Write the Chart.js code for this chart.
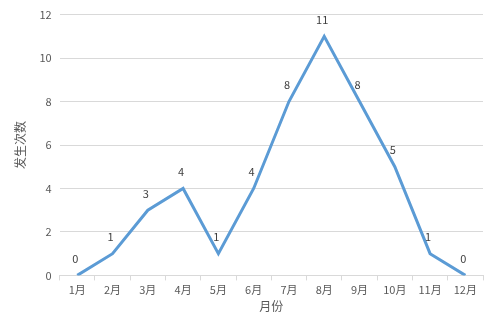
<!DOCTYPE html>
<html>
<head>
<meta charset="utf-8">
<script src="https://cdn.jsdelivr.net/npm/chart.js@4/dist/chart.umd.min.js"></script>
<style>
html, body { margin: 0; padding: 0; background: #fff; }
#wrap { width: 499px; height: 335px; }
</style>
</head>
<body>
<div id="wrap"><canvas id="chart"></canvas></div>
<script>
var months = ['1月', '2月', '3月', '4月', '5月', '6月', '7月', '8月', '9月', '10月', '11月', '12月'];
var counts = [0, 1, 3, 4, 1, 4, 8, 11, 8, 5, 1, 0];
var yTicks = [0, 2, 4, 6, 8, 10, 12];

var fontFamily = '"Noto Sans CJK SC", "Noto Sans", sans-serif';

// draws the value above each point
var pointLabels = {
	id: 'pointLabels',
	afterDatasetsDraw: function (chart) {
		var ctx = chart.ctx;
		var meta = chart.getDatasetMeta(0);
		ctx.save();
		ctx.font = '11px ' + fontFamily;
		ctx.fillStyle = '#404040';
		ctx.textAlign = 'center';
		ctx.textBaseline = 'bottom';
		meta.data.forEach(function (pt, i) {
			ctx.fillText(String(counts[i]), pt.x - 2, pt.y - 11);
		});
		ctx.restore();
	}
};

new Chart(document.getElementById('chart'), {
	type: 'line',
	data: {
		labels: months,
		datasets: [{
			data: counts,
			borderColor: '#5B9BD5',
			borderWidth: 3,
			pointRadius: 0,
			tension: 0,
			fill: false
		}]
	},
	options: {
		responsive: true,
		maintainAspectRatio: false,
		animation: false,
		layout: { padding: { top: 8, right: 16, left: 9, bottom: 17 } },
		plugins: {
			legend: { display: false },
			tooltip: { enabled: false }
		},
		scales: {
			x: {
				offset: true,
				grid: { offset: true, drawOnChartArea: false, color: '#d9d9d9', tickLength: 5 },
				border: { color: '#d9d9d9' },
				ticks: { color: '#595959', font: { size: 11, family: fontFamily }, padding: 3, maxRotation: 0 },
				title: { display: true, text: '月份', color: '#595959', font: { size: 12, family: fontFamily }, padding: { top: 0 } }
			},
			y: {
				min: 0,
				max: 12,
				afterBuildTicks: function (axis) {
					axis.ticks = yTicks.map(function (v) { return { value: v }; });
				},
				grid: { color: '#d9d9d9', drawTicks: false },
				border: { display: false },
				ticks: { color: '#595959', font: { size: 11, family: fontFamily }, padding: 8 },
				title: { display: true, text: '发生次数', color: '#595959', font: { size: 12, family: fontFamily }, padding: { bottom: 4 } }
			}
		}
	},
	plugins: [pointLabels]
});
</script>
</body>
</html>
